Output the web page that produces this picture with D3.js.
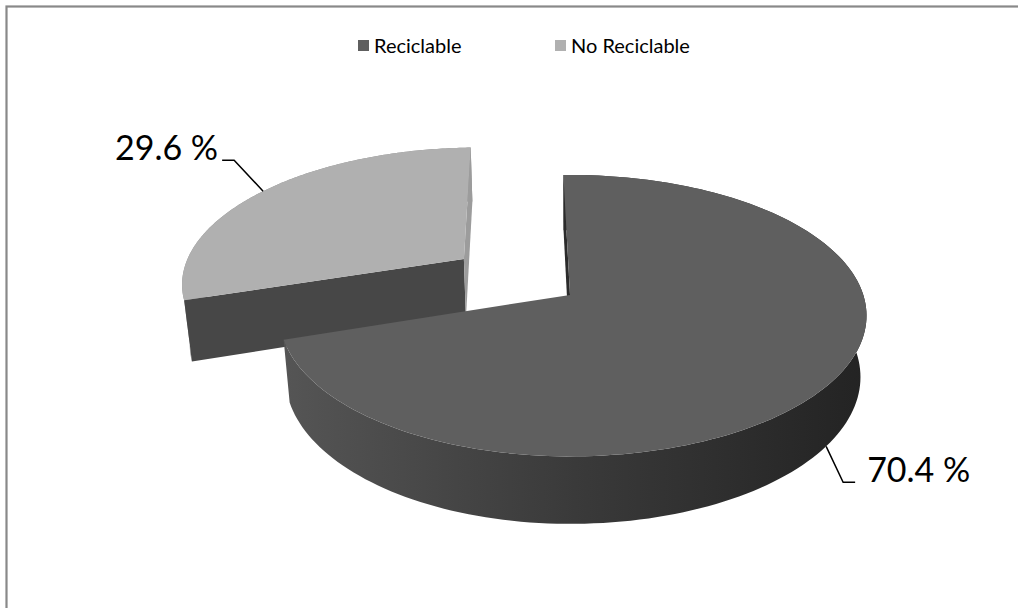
<!DOCTYPE html>
<html>
<head>
<meta charset="utf-8">
<script src="https://cdn.jsdelivr.net/npm/d3@7"></script>
<style>
  html, body { margin: 0; padding: 0; background: #fff; }
  svg { display: block; }
  text { font-family: Lato, "Open Sans", sans-serif; }
</style>
</head>
<body>
<svg id="chart" width="1018" height="608"></svg>
<script>
// ---- data ----
const categories = ["Reciclable", "No Reciclable"];
const values = [70.4, 29.6];
const valueLabels = ["70.4 %", "29.6 %"];

// ---- styles ----
const topColors = ["#5f5f5f", "#b0b0b0"];
const startFaceColors = ["#2b2b2b", "#474747"];
const endFaceColors = ["#2b2b2b", "#9c9c9c"];
const wallColors = [["#555555", "#3a3a3a", "#232323"], ["#8c8c8c", "#8c8c8c", "#8c8c8c"]];
const explode = [0, 0.47];

const W = 1018, H = 608;
const svg = d3.select("#chart");

// frame
svg.append("rect")
  .attr("x", 6.5).attr("y", 6.5).attr("width", 1200).attr("height", 1200)
  .attr("fill", "none").attr("stroke", "#898989").attr("stroke-width", 2.2);

// ---- 3D projection ----
const ELEV = 30 * Math.PI / 180;
const DIST = 6, FOC = 1724.6, THICK = 0.24, CX = 570, CY = 355.9;
const sE = Math.sin(ELEV), cE = Math.cos(ELEV);
const rScale = d3.scaleLinear().domain([0, 1]).range([0, 1]);
function proj(X, Y, Z) {
  const Xa = X < 0 ? X * 0.98 : X;
  const depth = DIST + Y * cE - Z * sE;
  return [CX + FOC * Xa / depth, CY - FOC * (Y * sE + Z * cE) / depth];
}
const cam = [0, -DIST * cE, DIST * sE];

const startA = -1.5 * Math.PI / 180;
const arcs = d3.pie().sort(null).startAngle(startA).endAngle(startA + 2 * Math.PI)(values);

const line = d3.line();
const defs = svg.append("defs");

function slicePieces(a, i) {
  const mid = (a.startAngle + a.endAngle) / 2;
  const ox = explode[i] * Math.sin(mid), oy = explode[i] * Math.cos(mid);
  const rim = (ang, z, r = 1) => proj(ox + rScale(r) * Math.sin(ang), oy + rScale(r) * Math.cos(ang), z);
  const n = 160;
  const angs = d3.range(n + 1).map(k => a.startAngle + (a.endAngle - a.startAngle) * k / n);
  const topArc = angs.map(t => rim(t, THICK));
  const botArc = angs.map(t => rim(t, 0));
  const apexT = proj(ox, oy, THICK), apexB = proj(ox, oy, 0);
  return { mid, ox, oy, rim, topArc, botArc, apexT, apexB };
}

function faceVisible(nx, ny, px, py) {
  return nx * (cam[0] - px) + ny * (cam[1] - py) > 0;
}

function drawSlice(a, i) {
  const p = slicePieces(a, i);
  const g = svg.append("g");
  const xs = p.topArc.map(d => d[0]);
  const gid = "wall" + i;
  const grad = defs.append("linearGradient").attr("id", gid)
    .attr("gradientUnits", "userSpaceOnUse")
    .attr("x1", d3.min(xs)).attr("x2", d3.max(xs)).attr("y1", 0).attr("y2", 0);
  grad.append("stop").attr("offset", 0).attr("stop-color", wallColors[i][0]);
  grad.append("stop").attr("offset", 0.5).attr("stop-color", wallColors[i][1]);
  grad.append("stop").attr("offset", 1).attr("stop-color", wallColors[i][2]);
  g.append("path")
    .attr("d", line(p.topArc.concat(p.botArc.slice().reverse())) + "Z")
    .attr("fill", `url(#${gid})`);
  const a0 = a.startAngle, a1 = a.endAngle;
  if (faceVisible(-Math.cos(a0), Math.sin(a0), p.ox, p.oy)) {
    g.append("path")
      .attr("d", line([p.apexT, p.rim(a0, THICK), p.rim(a0, 0), p.apexB]) + "Z")
      .attr("fill", startFaceColors[i]);
  }
  if (faceVisible(Math.cos(a1), -Math.sin(a1), p.ox, p.oy)) {
    g.append("path")
      .attr("d", line([p.apexT, p.rim(a1, THICK), p.rim(a1, 0), p.apexB]) + "Z")
      .attr("fill", endFaceColors[i]);
  }
  g.append("path")
    .attr("d", line([p.apexT].concat(p.topArc)) + "Z")
    .attr("fill", topColors[i]);
  return p;
}

const pSmall = drawSlice(arcs[1], 1);
const pBig = drawSlice(arcs[0], 0);

// ---- labels with leader lines ----
const labelG = svg.append("g");
{
  const P = pBig.rim(pBig.mid, 0);
  const q1 = [P[0] + 17, P[1] + 36], q2 = [q1[0] + 12, q1[1]];
  labelG.append("path").attr("d", line([P, q1, q2])).attr("fill", "none")
    .attr("stroke", "#000").attr("stroke-width", 1.5);
  labelG.append("text").attr("x", q2[0] + 12).attr("y", q2[1])
    .attr("font-size", 34).attr("fill", "#000").text(valueLabels[0]);
}
{
  const P = pSmall.rim(pSmall.mid, THICK);
  const q1 = [P[0] - 29, P[1] - 31], q2 = [q1[0] - 12, q1[1]];
  labelG.append("path").attr("d", line([P, q1, q2])).attr("fill", "none")
    .attr("stroke", "#000").attr("stroke-width", 1.5);
  labelG.append("text").attr("x", q2[0] - 4).attr("y", q2[1])
    .attr("text-anchor", "end")
    .attr("font-size", 34).attr("fill", "#000").text(valueLabels[1]);
}

// ---- legend ----
const legendX = [358, 555];
const legend = svg.append("g");
categories.forEach((c, i) => {
  legend.append("rect").attr("x", legendX[i]).attr("y", 40).attr("width", 11).attr("height", 11)
    .attr("fill", topColors[i]);
  legend.append("text").attr("x", legendX[i] + 16).attr("y", 53)
    .attr("font-size", 20).attr("fill", "#000").text(c);
});
</script>
</body>
</html>
